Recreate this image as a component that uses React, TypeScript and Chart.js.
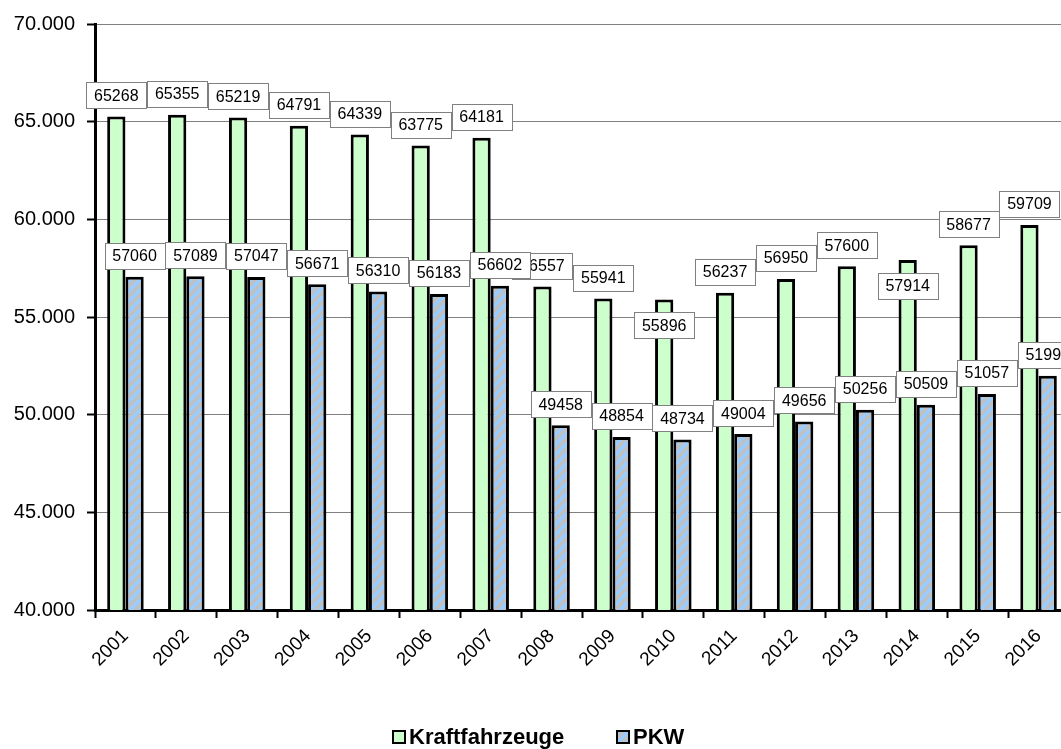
import React, { useEffect, useRef } from 'react';
import { Chart, registerables } from 'chart.js';

Chart.register(...registerables);

const years = ['2001', '2002', '2003', '2004', '2005', '2006', '2007', '2008', '2009', '2010', '2011', '2012', '2013', '2014', '2015', '2016'];
const kraftfahrzeuge = [65268, 65355, 65219, 64791, 64339, 63775, 64181, 56557, 55941, 55896, 56237, 56950, 57600, 57914, 58677, 59709];
const pkw = [57060, 57089, 57047, 56671, 56310, 56183, 56602, 49458, 48854, 48734, 49004, 49656, 50256, 50509, 51057, 51994];
const seriesNames = ['Kraftfahrzeuge', 'PKW'];
const yMin = 40000;
const yMax = 70000;
const yStep = 5000;
// years whose Kraftfahrzeuge label sits inside the bar top (as in the original)
const kfzLabelsInside = ['2010', '2014'];

const FONT = '"Liberation Sans", Arial, Helvetica, sans-serif';

function fmtThousands(v: number): string {
  return String(Math.round(v)).replace(/\B(?=(\d{3})+(?!\d))/g, '.');
}

function makeHatch(): CanvasPattern | string {
  const n = 10;
  const c = document.createElement('canvas');
  c.width = n;
  c.height = n;
  const g = c.getContext('2d');
  if (!g) return '#99ccff';
  g.fillStyle = '#c0c0c0';
  g.fillRect(0, 0, n, n);
  g.strokeStyle = '#99ccff';
  g.lineWidth = 3.6;
  g.beginPath();
  g.moveTo(-2, 2); g.lineTo(2, -2);
  g.moveTo(-2, n + 2); g.lineTo(n + 2, -2);
  g.moveTo(n - 2, n + 2); g.lineTo(n + 2, n - 2);
  g.stroke();
  const p = g.createPattern(c, 'repeat');
  return p || '#99ccff';
}

export default function App() {
  const ref = useRef<HTMLCanvasElement | null>(null);

  useEffect(() => {
    if (!ref.current) return;
    const hatch = makeHatch();
    const green = '#ccffcc';

    const labelPlugin = {
      id: 'boxLabels',
      afterDraw(chart: any) {
        const ctx = chart.ctx as CanvasRenderingContext2D;
        ctx.save();
        ctx.font = `16px ${FONT}`;
        ctx.textAlign = 'center';
        ctx.textBaseline = 'middle';
        chart.data.datasets.forEach((ds: any, di: number) => {
          const meta = chart.getDatasetMeta(di);
          meta.data.forEach((bar: any, i: number) => {
            const v = ds.data[i] as number;
            const text = String(v);
            const w = Math.round(ctx.measureText(text).width + 16);
            const h = 26;
            const inside = di === 0 && kfzLabelsInside.includes(years[i]);
            const cy = inside ? bar.y + 26 : bar.y - 21;
            const x0 = Math.round(bar.x - w / 2) + 0.5;
            const y0 = Math.round(cy - h / 2) + 0.5;
            ctx.fillStyle = '#ffffff';
            ctx.fillRect(x0, y0, w, h);
            ctx.strokeStyle = '#808080';
            ctx.lineWidth = 1;
            ctx.strokeRect(x0, y0, w, h);
            ctx.fillStyle = '#000000';
            ctx.fillText(text, bar.x, cy + 1);
          });
        });

        // legend
        ctx.font = `bold 22px ${FONT}`;
        ctx.textAlign = 'left';
        ctx.textBaseline = 'middle';
        const ly = 737;
        const items = [
          { x: 393, fill: green as any, label: seriesNames[0] },
          { x: 617, fill: hatch as any, label: seriesNames[1] },
        ];
        items.forEach((it) => {
          ctx.fillStyle = it.fill;
          ctx.fillRect(it.x, ly - 6, 12, 12);
          ctx.strokeStyle = '#000';
          ctx.lineWidth = 2;
          ctx.strokeRect(it.x, ly - 6, 12, 12);
          ctx.fillStyle = '#000';
          ctx.fillText(it.label, it.x + 16, ly + 1);
        });
        ctx.restore();
      },
    };

    const chart = new Chart(ref.current, {
      type: 'bar',
      data: {
        labels: years,
        datasets: [
          {
            label: seriesNames[0],
            data: kraftfahrzeuge,
            backgroundColor: green,
            borderColor: '#000000',
            borderWidth: 3,
            categoryPercentage: 0.6,
            barPercentage: 1.0,
          },
          {
            label: seriesNames[1],
            data: pkw,
            backgroundColor: hatch as any,
            borderColor: '#000000',
            borderWidth: 3,
            categoryPercentage: 0.6,
            barPercentage: 1.0,
          },
        ],
      },
      options: {
        responsive: false,
        animation: false,
        devicePixelRatio: 1,
        layout: { padding: { top: 20, right: 1, left: 0, bottom: 0 } },
        plugins: {
          legend: { display: false },
          tooltip: { enabled: false },
          title: { display: false },
        },
        scales: {
          x: {
            type: 'category',
            grid: {
              display: true,
              drawOnChartArea: false,
              drawTicks: true,
              tickLength: 8,
              tickColor: '#000000',
              tickWidth: 2,
              offset: true,
            },
            border: { display: true, color: '#000000', width: 3 },
            ticks: {
              color: '#000000',
              font: { family: FONT, size: 19 },
              minRotation: 45,
              maxRotation: 45,
              padding: 7,
              autoSkip: false,
            },
            afterFit: (s: any) => { s.height = 139; },
          },
          y: {
            type: 'linear',
            min: yMin,
            max: yMax,
            grid: {
              color: '#808080',
              lineWidth: 1,
              drawTicks: true,
              tickLength: 8,
              tickColor: '#000000',
              tickWidth: 2,
            },
            border: { display: true, color: '#000000', width: 3 },
            ticks: {
              stepSize: yStep,
              color: '#000000',
              font: { family: FONT, size: 20 },
              padding: 12,
              callback: (v: any) => fmtThousands(Number(v)),
            },
            afterFit: (s: any) => { s.width = 95; },
          },
        },
      },
      plugins: [labelPlugin],
    });

    return () => chart.destroy();
  }, []);

  return (
    <div style={{ position: 'absolute', left: 0, top: 0, width: 1061, height: 749, overflow: 'hidden', background: '#ffffff' }}>
      <canvas ref={ref} width={1070} height={749} style={{ display: 'block', width: 1070, height: 749 }} />
    </div>
  );
}
